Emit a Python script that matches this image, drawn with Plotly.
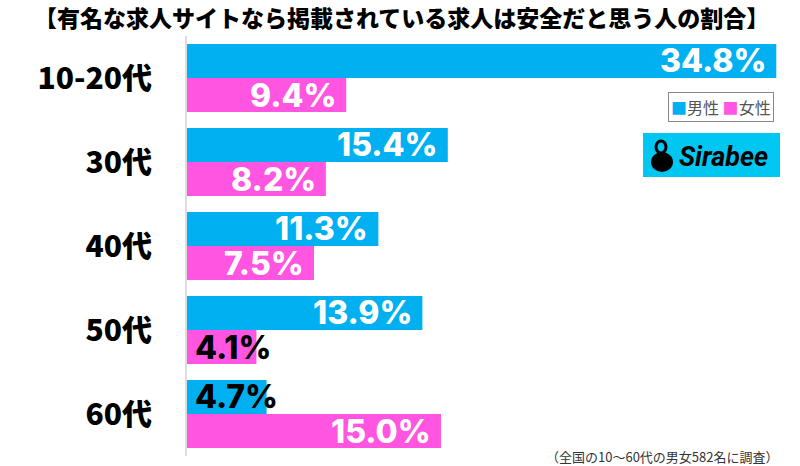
import plotly.graph_objects as go

categories = ["10-20代", "30代", "40代", "50代", "60代"]
male = [34.8, 15.4, 11.3, 13.9, 4.7]
female = [9.4, 8.2, 7.5, 4.1, 15.0]
series_names = ["男性", "女性"]
colors = ["#00b0f0", "#ff55e0"]

title = "【有名な求人サイトなら掲載されている求人は安全だと思う人の割合】"
footnote = "（全国の10～60代の男女582名に調査）"

L, T, W, H = 187, 36, 800, 466
PW, PH = W - L, 420
xmax = 36.2
bargap = 0.19
bw = (1 - bargap) / 2

fig = go.Figure()
for name, vals, col in zip(series_names, [male, female], colors):
    fig.add_trace(go.Bar(
        y=categories, x=vals, name=name, orientation="h",
        marker=dict(color=col, line=dict(width=0)),
        showlegend=False, hoverinfo="skip",
    ))

lab_font = dict(family="Inter, Roboto, sans-serif", size=32, weight=800)
for si, vals in enumerate([male, female]):
    for i, v in enumerate(vals):
        yc = i + (-bw / 2 if si == 0 else bw / 2)
        txt = f"{v:.1f}%"
        if v < 6:
            fig.add_annotation(x=0, y=yc, xref="x", yref="y", text=txt, showarrow=False,
                               xanchor="left", yanchor="middle", xshift=6,
                               font=dict(lab_font, color="black"))
        else:
            fig.add_annotation(x=v, y=yc, xref="x", yref="y", text=txt, showarrow=False,
                               xanchor="right", yanchor="middle", xshift=-8,
                               font=dict(lab_font, color="white"))

def px_x(p):
    return (p - L) / PW

def px_y(p):
    return (T + PH - p) / PH

# title
fig.add_annotation(x=px_x(401), y=px_y(17), xref="paper", yref="paper", text=title, showarrow=False,
                   xanchor="center", yanchor="middle",
                   font=dict(family="Noto Sans CJK JP", size=23, color="black", weight=900))

# legend (manual)
leg_txt = (f'<span style="color:{colors[0]}">■</span>{series_names[0]} '
           f'<span style="color:{colors[1]}">■</span>{series_names[1]}')
fig.add_annotation(x=px_x(668), y=px_y(92), xref="paper", yref="paper", text=leg_txt,
                   showarrow=False, xanchor="left", yanchor="top",
                   bordercolor="#888", borderwidth=1, borderpad=2, bgcolor="white",
                   font=dict(family="Noto Sans CJK JP", size=16, color="#555"))

# Sirabee logo
fig.add_shape(type="rect", xref="paper", yref="paper",
              x0=px_x(643), x1=px_x(780), y0=px_y(177), y1=px_y(133),
              fillcolor="#00c6f2", line=dict(width=0))
fig.add_shape(type="circle", xref="paper", yref="paper",
              x0=px_x(651), x1=px_x(673), y0=px_y(172), y1=px_y(152),
              fillcolor="black", line=dict(width=0))
fig.add_shape(type="circle", xref="paper", yref="paper",
              x0=px_x(656), x1=px_x(666), y0=px_y(153), y1=px_y(141),
              fillcolor="rgba(0,0,0,0)", line=dict(width=3, color="black"))
fig.add_annotation(x=px_x(677), y=px_y(157), xref="paper", yref="paper", text="<b><i>Sirabee</i></b>",
                   showarrow=False, xanchor="left", yanchor="middle",
                   font=dict(family="Roboto, sans-serif", size=27, color="black"))

# footnote
fig.add_annotation(x=px_x(781), y=px_y(456), xref="paper", yref="paper", text=footnote,
                   showarrow=False, xanchor="right", yanchor="middle",
                   font=dict(family="Noto Sans CJK JP", size=13, color="#333"))

fig.update_layout(
    width=W, height=H, barmode="group", bargap=bargap, bargroupgap=0,
    margin=dict(l=L, r=0, t=T, b=H - T - PH, pad=0),
    plot_bgcolor="white", paper_bgcolor="white",
    xaxis=dict(range=[0, xmax], showgrid=False, zeroline=False, showticklabels=False,
               showline=False, fixedrange=True),
    yaxis=dict(autorange="reversed", showgrid=False, zeroline=False, showline=True,
               linecolor="#dddddd", linewidth=2, ticks="", ticklabelstandoff=27,
               tickfont=dict(family="Noto Sans CJK JP", size=30, color="black", weight=900)),
)

fig.write_html("out.html")
